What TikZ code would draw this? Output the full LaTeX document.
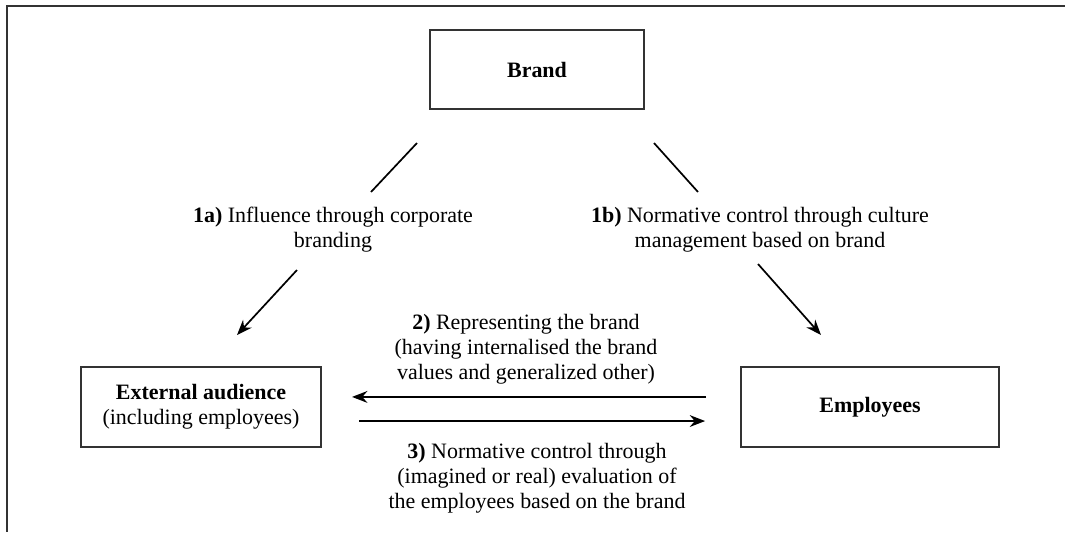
\documentclass[tikz,border=0pt]{standalone}
\usepackage{fontspec}
\setmainfont{Liberation Serif}
\usetikzlibrary{arrows.meta}

\begin{document}
\begin{tikzpicture}[x=0.5556pt,y=-0.5556pt,>={Stealth[length=8.5pt,width=6.5pt]},align=center,
        every node/.style={font=\fontsize{12.2}{13.9}\selectfont},
        box/.style={draw=black!80,line width=1.1pt,minimum height=44.4pt,inner sep=0pt},
        link/.style={line width=0.95pt},
        flow/.style={->,line width=1.3pt}]
        \useasboundingbox (0,0) rectangle (1065,532);
        \draw[black!80,line width=1.1pt] (1065,6) -- (7,6) -- (7,532);

        \node[box,minimum width=118.9pt,minimum height=43.9pt] (brand) at (537,69.5) {\textbf{Brand}};
        \node[box,minimum width=133.3pt] (ext) at (201,407) {\textbf{External audience}\\(including employees)};
        \node[box,minimum width=143.3pt] (emp) at (870,407) {\textbf{Employees}};

        \node (l1a) at (333,230) {\textbf{1a)} Influence through corporate\\branding};
        \node (l1b) at (760,230) {\textbf{1b)} Normative control through culture\\management based on brand};
        \node (l2) at (526,349) {\textbf{2)} Representing the brand\\(having internalised the brand\\values and generalized other)};
        \node (l3) at (537,478) {\textbf{3)} Normative control through\\(imagined or real) evaluation of\\the employees based on the brand};

        \coordinate (a1) at (417,143);
        \coordinate (a2) at (371,192);
        \coordinate (a3) at (297,270);
        \coordinate (a4) at (237,335);
        \coordinate (b1) at (654,143);
        \coordinate (b2) at (698,192);
        \coordinate (b3) at (758,264);
        \coordinate (b4) at (821,335);

        \draw[link] (a1) -- (a2);
        \draw[link,->] (a3) -- (a4);
        \draw[link] (b1) -- (b2);
        \draw[link,->] (b3) -- (b4);

        \draw[flow,shorten <=18.9pt,shorten >=16.7pt] ([yshift=5.6pt]emp.west) -- ([yshift=5.6pt]ext.east);
        \draw[flow,shorten <=20.6pt,shorten >=19.4pt] ([yshift=-7.8pt]ext.east) -- ([yshift=-7.8pt]emp.west);
\end{tikzpicture}
\end{document}
